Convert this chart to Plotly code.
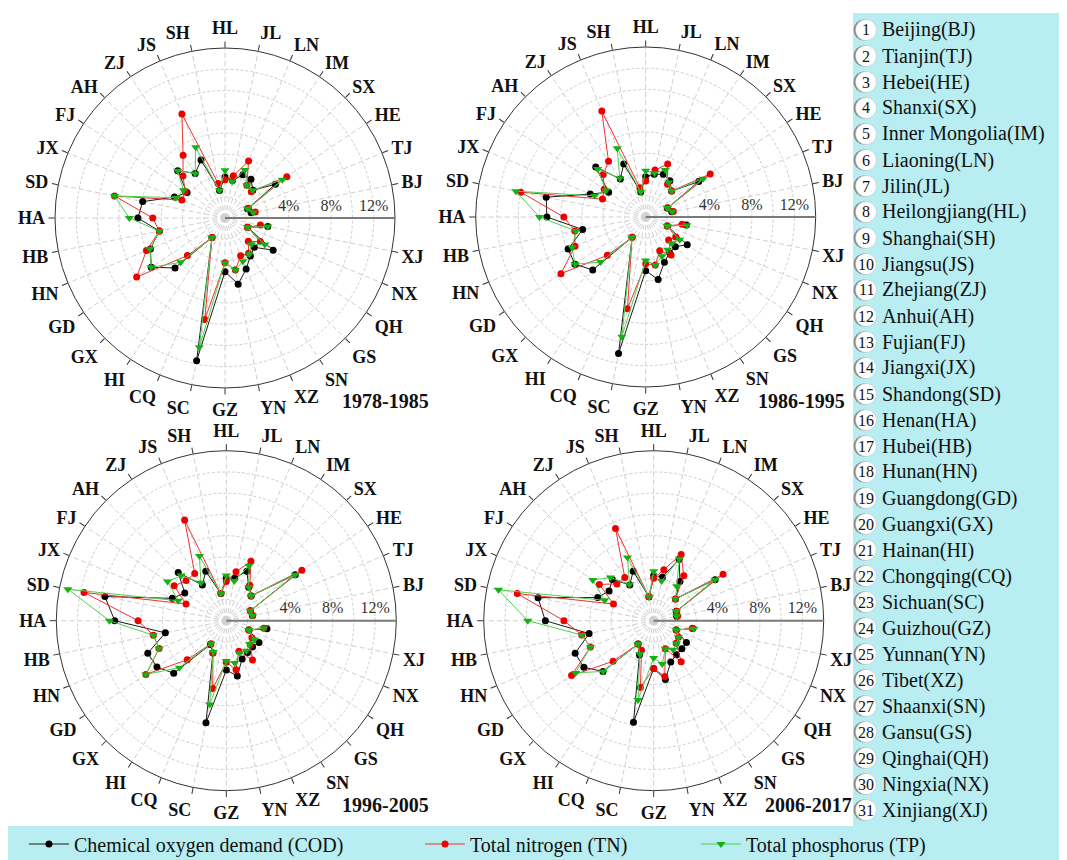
import plotly.graph_objects as go

# ---------------- data ----------------
abbr = ["BJ", "TJ", "HE", "SX", "IM", "LN", "JL", "HL", "SH", "JS", "ZJ", "AH", "FJ", "JX", "SD", "HA",
        "HB", "HN", "GD", "GX", "HI", "CQ", "SC", "GZ", "YN", "XZ", "SN", "GS", "QH", "NX", "XJ"]
names = ["Beijing", "Tianjin", "Hebei", "Shanxi", "Inner Mongolia", "Liaoning", "Jilin", "Heilongjiang",
         "Shanghai", "Jiangsu", "Zhejiang", "Anhui", "Fujian", "Jiangxi", "Shandong", "Henan", "Hubei",
         "Hunan", "Guangdong", "Guangxi", "Hainan", "Chongqing", "Sichuan", "Guizhou", "Yunnan", "Tibet",
         "Shaanxi", "Gansu", "Qinghai", "Ningxia", "Xinjiang"]
periods = ["1978-1985", "1986-1995", "1996-2005", "2006-2017"]

# shares (%) by province, order as abbr
cod_1978 = [0.5, 0.3, 3.7, 1.7, 2.4, 2.4, 1.6, 1.85, 0.65, 3.9, 3.05, 4.3, 2.3, 3.15, 5.9, 6.2,
            4.3, 5.6, 6.35, 4.65, 0.2, None, 11.7, 3.05, 4.35, 3.2, 2.3, 1.9, 3.45, 0.3, 2.1]
tn_1978 = [0.9, 0.4, 5.0, 1.5, 1.7, 3.8, 2.05, 1.6, 1.3, 8.6, 5.1, 3.6, 2.5, 2.4, 8.6, 4.8,
           4.3, 6.0, 8.0, 3.0, 0.2, None, 7.75, 2.2, 3.0, 1.85, 2.0, 1.1, 2.0, 0.3, 1.4]
tp_1978 = [0.7, 0.3, 4.5, 1.7, 1.7, 2.9, 1.5, 2.5, 0.65, 5.2, 3.05, 4.3, 2.7, 3.0, 8.6, 7.0,
           4.3, 5.65, 6.35, 3.9, 0.2, None, 10.4, 2.2, 3.0, 2.4, 2.1, 1.5, 2.5, 0.3, 2.1]

cod_1986 = [0.5, 0.2, 4.0, 1.45, 2.1, 2.35, 2.1, 1.8, 0.4, 3.4, 2.3, 4.65, 2.2, 3.65, 7.55, 7.3,
            4.05, 5.9, 6.0, 5.05, 0.3, None, 11.1, 3.05, 4.0, 2.6, 2.05, 1.95, 2.7, 0.2, 1.9]
tn_1986 = [0.65, 0.25, 5.3, 1.45, 1.7, 3.4, 2.5, 1.4, 0.8, 8.8, 4.3, 3.65, 2.7, 2.4, 10.0, 5.7,
           4.8, 5.2, 7.6, 3.1, 0.3, None, 6.8, 2.4, 2.6, 1.45, 2.3, 1.05, 1.4, 0.2, 1.5]
tp_1986 = [0.55, 0.2, 4.5, 1.45, 1.9, 2.8, 2.2, 2.35, 0.4, 5.0, 2.4, 4.4, 2.5, 3.2, 10.45, 8.0,
           4.7, 5.5, 6.0, 4.0, 0.3, None, 9.5, 2.1, 2.6, 2.0, 1.7, 1.5, 1.85, 0.2, 1.95]

cod_1996 = [0.5, 0.45, 5.8, 1.3, 1.8, 3.05, 2.1, 2.0, 0.6, 3.05, 2.05, 4.4, 2.7, 3.5, 9.65, 8.5,
            3.85, 6.0, 5.85, 5.0, 0.7, 1.3, 7.8, 2.65, 3.3, 1.9, 1.6, 1.5, 1.7, 0.3, 1.9]
tn_1996 = [0.55, 0.45, 6.55, 1.3, 2.0, 4.05, 2.7, 1.7, 0.6, 8.25, 3.35, 3.35, 3.9, 2.1, 11.65, 6.3,
           5.0, 4.85, 7.1, 3.2, 0.6, 1.3, 4.5, 1.9, 2.7, 1.1, 2.45, 1.2, 0.9, 0.3, 1.6]
tp_1996 = [0.5, 0.45, 5.8, 1.3, 1.8, 3.6, 1.8, 2.25, 0.6, 4.6, 2.3, 4.0, 4.65, 2.9, 13.2, 9.0,
           5.0, 4.85, 7.1, 4.25, 0.6, 1.2, 6.05, 1.8, 2.05, 1.3, 1.4, 1.1, 1.2, 0.3, 1.6]

cod_2006 = [0.2, 0.3, 4.95, 0.9, 2.45, 4.25, 2.2, 2.25, 0.3, 3.05, 2.05, 3.5, 3.05, 3.7, 9.1, 8.2,
            4.2, 6.0, 5.9, 4.75, 0.65, 1.5, 7.75, 2.5, 3.65, 2.2, 1.85, 1.75, 1.7, 0.3, 1.75]
tn_2006 = [0.3, 0.35, 5.85, 0.9, 3.1, 4.75, 2.9, 2.0, 0.3, 7.4, 2.9, 2.9, 4.15, 2.1, 11.1, 6.45,
           4.9, 4.45, 7.3, 3.4, 0.65, 1.0, 4.4, 2.5, 3.35, 0.85, 2.65, 1.0, 0.8, 0.3, 1.7]
tp_2006 = [0.2, 0.3, 4.95, 0.9, 1.9, 4.3, 1.8, 2.65, 0.3, 4.45, 2.1, 3.75, 4.9, 3.0, 12.9, 9.85,
           4.9, 4.45, 6.85, 4.75, 0.65, 1.4, 5.6, 1.5, 2.15, 0.85, 1.3, 1.05, 0.8, 0.3, 1.85]

cod_all = [cod_1978, cod_1986, cod_1996, cod_2006]
tn_all = [tn_1978, tn_1986, tn_1996, tn_2006]
tp_all = [tp_1978, tp_1986, tp_1996, tp_2006]

radial_ticks = [0, 2, 4, 6, 8, 10, 12]
radial_labels = ["", "", "4%", "", "8%", "", "12%"]

# ---------------- figure ----------------
W, H = 1067, 860
SERIF = "Liberation Serif, Times New Roman, serif"
CYAN = "#b8eef1"

fig = go.Figure()

series = [
    ("Chemical oxygen demand (COD)", cod_all, "#000000", "#1a1a1a", "circle", 7, "legend"),
    ("Total nitrogen (TN)", tn_all, "#ee0000", "#f03030", "circle", 7, "legend2"),
    ("Total phosphorus (TP)", tp_all, "#14b014", "#4fcf4f", "triangle-down", 8, "legend3"),
]

for p in range(4):
    sub = "polar" if p == 0 else f"polar{p + 1}"
    for name, data, mcol, lcol, sym, msz, leg in series:
        fig.add_trace(go.Scatterpolar(
            r=data[p], theta=abbr, subplot=sub, name=name, mode="lines+markers",
            connectgaps=True,
            line=dict(color=lcol, width=1),
            marker=dict(color=mcol, symbol=sym, size=msz, line=dict(width=0)),
            showlegend=(p == 0), legend=leg,
        ))

# panel centres (px) and radius
R = 170
centers = [(217, 210), (637.7, 209), (218.3, 612.7), (645.7, 612.7)]


def polar_layout(cx, cy):
    return dict(
        domain=dict(x=[(cx - R) / W, (cx + R) / W], y=[(H - cy - R) / H, (H - cy + R) / H]),
        bgcolor="white",
        radialaxis=dict(
            range=[-2, 14], tickmode="array", tickvals=radial_ticks, ticktext=radial_labels,
            angle=0, side="counterclockwise", showline=True, linecolor="#7a7a7a", linewidth=2,
            gridcolor="#cfcfcf", griddash="3px,2px", gridwidth=1, ticks="",
            tickfont=dict(family=SERIF, size=16, color="#333333"), layer="below traces",
        ),
        angularaxis=dict(
            type="category", categoryorder="array", categoryarray=abbr, period=32,
            rotation=11.25, direction="counterclockwise", showline=True, linecolor="#333333",
            linewidth=1, ticks="outside", ticklen=6, tickcolor="#333333",
            gridcolor="#cfcfcf", griddash="5px,3px", gridwidth=1,
            tickfont=dict(family=SERIF, size=18, color="#111111", weight="bold"),
            layer="below traces",
        ),
    )


layout_polars = {}
for i, (cx, cy) in enumerate(centers):
    key = "polar" if i == 0 else f"polar{i + 1}"
    layout_polars[key] = polar_layout(cx, cy)

# background boxes
shapes = [
    dict(type="rect", xref="paper", yref="paper", x0=845 / W, x1=1, y0=0, y1=(H - 5) / H,
         fillcolor=CYAN, line=dict(width=0), layer="below"),
    dict(type="rect", xref="paper", yref="paper", x0=0, x1=1, y0=0, y1=(H - 818) / H,
         fillcolor=CYAN, line=dict(width=0), layer="below"),
]

annotations = []
# period labels
label_pos = [(377, 393), (793, 393), (377, 797), (800, 797)]
for (lx, ly), txt in zip(label_pos, periods):
    annotations.append(dict(x=lx / W, y=(H - ly) / H, xref="paper", yref="paper", text=f"<b>{txt}</b>",
                            showarrow=False, xanchor="center", yanchor="middle",
                            font=dict(family=SERIF, size=20, color="#111111")))

# right-hand numbered province list
for i, (n, a) in enumerate(zip(names, abbr)):
    yy = 22 + 26 * i
    cx, rr = 858, 10.5
    shapes.append(dict(type="circle", xref="paper", yref="paper",
                       x0=(cx - rr - 2) / W, x1=(cx + rr - 2) / W,
                       y0=(H - yy - rr) / H, y1=(H - yy + rr) / H,
                       fillcolor="#8a8a8a", line=dict(width=0)))
    shapes.append(dict(type="circle", xref="paper", yref="paper",
                       x0=(cx - rr) / W, x1=(cx + rr) / W,
                       y0=(H - yy - rr) / H, y1=(H - yy + rr) / H,
                       fillcolor="white", line=dict(color="#bbbbbb", width=0.5)))
    annotations.append(dict(x=cx / W, y=(H - yy) / H, xref="paper", yref="paper", text=str(i + 1),
                            showarrow=False, xanchor="center", yanchor="middle",
                            font=dict(family=SERIF, size=16, color="#111111")))
    annotations.append(dict(x=872 / W, y=(H - yy) / H, xref="paper", yref="paper", text=f"{n}({a})",
                            showarrow=False, xanchor="left", yanchor="middle",
                            font=dict(family=SERIF, size=20, color="#111111")))

leg_common = dict(orientation="h", bgcolor="rgba(0,0,0,0)", borderwidth=0,
                  font=dict(family=SERIF, size=20, color="#111111"),
                  yanchor="middle", y=(H - 836) / H, xanchor="left", itemwidth=40)

fig.update_layout(
    width=W, height=H, margin=dict(l=0, r=0, t=0, b=0),
    paper_bgcolor="white", plot_bgcolor="white",
    showlegend=True,
    legend=dict(x=16 / W, **leg_common),
    legend2=dict(x=412 / W, **leg_common),
    legend3=dict(x=688 / W, **leg_common),
    shapes=shapes, annotations=annotations,
    **layout_polars,
)

fig.write_html("out.html")
